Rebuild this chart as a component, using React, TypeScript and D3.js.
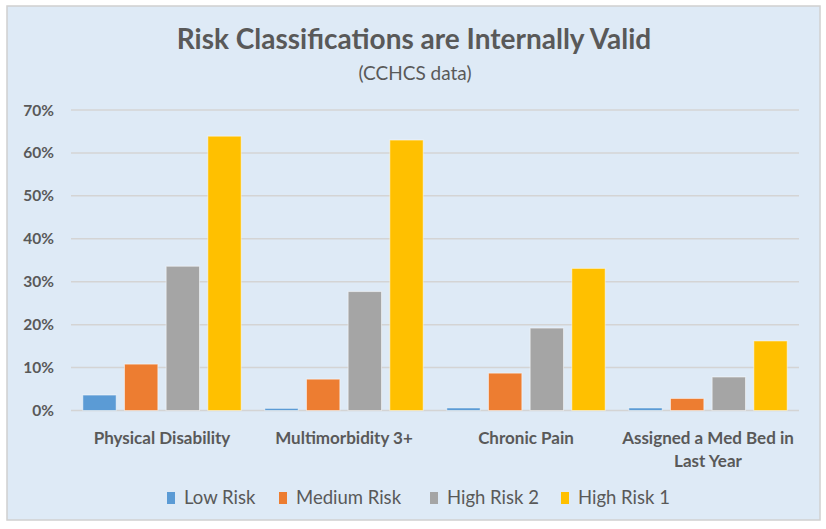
import React from "react";
import * as d3 from "d3";

const WIDTH = 826;
const HEIGHT = 529;

const categories = [
  ["Physical Disability"],
  ["Multimorbidity 3+"],
  ["Chronic Pain"],
  ["Assigned a Med Bed in", "Last Year"],
];
const seriesNames = ["Low Risk", "Medium Risk", "High Risk 2", "High Risk 1"];
const COLORS = ["#5B9BD5", "#ED7D31", "#A5A5A5", "#FFC000"];

const lowRisk = [3.6, 0.5, 0.6, 0.6];
const mediumRisk = [10.8, 7.3, 8.7, 2.8];
const highRisk2 = [33.6, 27.7, 19.2, 7.8];
const highRisk1 = [63.9, 63.0, 33.1, 16.2];
const series = [lowRisk, mediumRisk, highRisk2, highRisk1];

const yTicks = [0, 10, 20, 30, 40, 50, 60, 70];

const FONT = "Lato, 'Open Sans', sans-serif";
const TEXT = "#595959";

export default function App() {
  const x0 = d3
    .scaleBand<number>()
    .domain(d3.range(categories.length))
    .range([71, 799])
    .paddingInner(0.13)
    .paddingOuter(0.065);

  const x1 = d3
    .scaleBand<number>()
    .domain(d3.range(series.length))
    .range([0, x0.bandwidth()])
    .paddingInner(0.2);

  const y = d3.scaleLinear().domain([0, 70]).range([410.5, 110]);

  const legendX = [167, 279, 430, 561];

  return (
    <svg
      width={WIDTH}
      height={HEIGHT}
      style={{ position: "absolute", left: 0, top: 0, background: "#fff" }}
    >
      <rect x={7} y={6} width={813} height={514} fill="#DEEAF6" stroke="#D0D0D0" strokeWidth={1.5} />
      <text
        x={414}
        y={49}
        textAnchor="middle"
        fontFamily={FONT}
        fontWeight={700}
        fontSize={28}
        fill={TEXT}
      >
        Risk Classifications are Internally Valid
      </text>
      <text x={415} y={80} textAnchor="middle" fontFamily={FONT} fontSize={19} fill={TEXT}>
        (CCHCS data)
      </text>

      {yTicks.map((t) => (
        <g key={t}>
          <line x1={71} x2={799} y1={y(t)} y2={y(t)} stroke="#D4D4D4" strokeWidth={1.5} />
          <text
            x={54}
            y={y(t) + 5.5}
            textAnchor="end"
            fontFamily={FONT}
            fontWeight={700}
            fontSize={15.5}
            fill={TEXT}
          >
            {t}%
          </text>
        </g>
      ))}

      {categories.map((_, ci) => (
        <g key={ci} transform={`translate(${x0(ci)},0)`}>
          {series.map((vals, si) => (
            <rect
              key={si}
              x={x1(si)}
              y={y(vals[ci])}
              width={x1.bandwidth()}
              height={y(0) - y(vals[ci])}
              fill={COLORS[si]}
              stroke="#fff"
              strokeOpacity={0.5}
              strokeWidth={1}
            />
          ))}
        </g>
      ))}

      {categories.map((lines, ci) =>
        lines.map((line, li) => (
          <text
            key={`${ci}-${li}`}
            x={(x0(ci) ?? 0) + x0.bandwidth() / 2}
            y={444 + li * 23}
            textAnchor="middle"
            fontFamily={FONT}
            fontWeight={700}
            fontSize={17}
            fill={TEXT}
          >
            {line}
          </text>
        ))
      )}

      {seriesNames.map((name, i) => (
        <g key={name} transform={`translate(${legendX[i]},0)`}>
          <rect x={0} y={492} width={8} height={12} fill={COLORS[i]} />
          <text x={17} y={504} fontFamily={FONT} fontSize={18.5} fill={TEXT}>
            {name}
          </text>
        </g>
      ))}
    </svg>
  );
}
